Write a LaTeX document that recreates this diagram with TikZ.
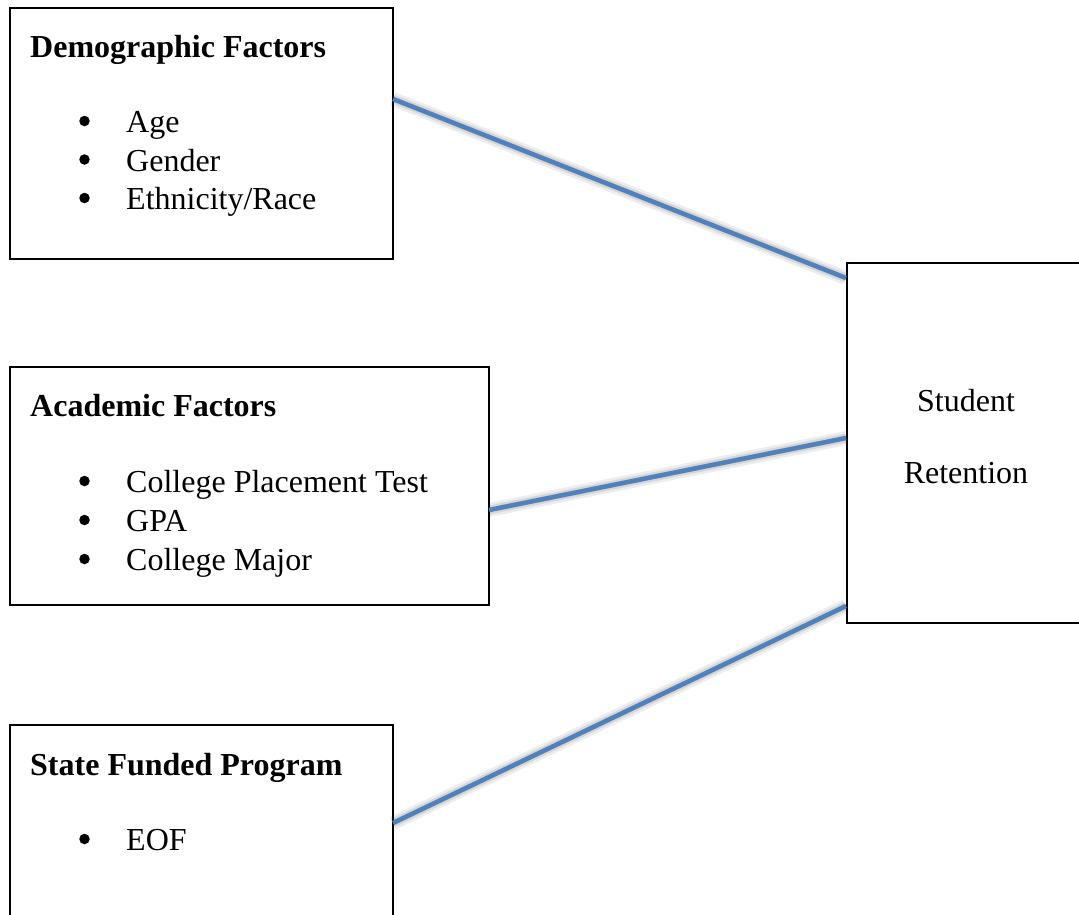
\documentclass[tikz,border=0pt]{standalone}
\usepackage{fontspec}
\setmainfont{Liberation Serif}
\definecolor{linkblue}{RGB}{79,129,189}
\begin{document}
\begin{tikzpicture}[x=1pt,y=-1pt,
  box/.style={draw=black,line width=1.6pt,rectangle,inner sep=0pt,anchor=north west},
  txt/.style={font=\fontsize{32}{38}\selectfont,inner sep=0pt},
  head/.style={txt,font=\fontsize{32}{38}\selectfont\bfseries,anchor=base west},
  item/.style={txt,anchor=base west},
  bul/.style={circle,fill=black,inner sep=0pt,minimum size=10.5pt},
  link/.style={draw=linkblue,line width=4.5pt},
  shadowA/.style={draw=black,opacity=0.07,line width=14pt},
  shadowB/.style={draw=black,opacity=0.09,line width=9pt},
  shadowC/.style={draw=black,opacity=0.10,line width=5pt}]
\clip (0,0) rectangle (1079,914);
\fill[white] (0,0) rectangle (1079,914);

% boxes
\node[box,minimum width=383pt,minimum height=251pt] (demo) at (9,7) {};
\node[box,minimum width=479pt,minimum height=238pt] (acad) at (9,366) {};
\node[box,minimum width=383pt,minimum height=230pt] (state) at (9,724) {};
\node[box,minimum width=250pt,minimum height=360pt] (ret) at (846,262) {};

% demographic
\node[head] (demoT) at (30,57) {Demographic Factors};
\node[bul] (db1) at (84.5,121) {};
\node[item] (di1) at (126,132.5) {Age};
\node[bul] (db2) at (84.5,159.5) {};
\node[item] (di2) at (126,171) {Gender};
\node[bul] (db3) at (84.5,198) {};
\node[item] (di3) at (126,209.5) {Ethnicity/Race};

% academic
\node[head] (acadT) at (30,416) {Academic Factors};
\node[bul] (ab1) at (84.5,481) {};
\node[item] (ai1) at (126,492.5) {College Placement Test};
\node[bul] (ab2) at (84.5,520) {};
\node[item] (ai2) at (126,531.5) {GPA};
\node[bul] (ab3) at (84.5,559) {};
\node[item] (ai3) at (126,570.5) {College Major};

% state
\node[head] (stateT) at (30,775) {State Funded Program};
\node[bul] (sb1) at (84.5,839) {};
\node[item] (si1) at (126,850.5) {EOF};

% retention
\node[txt,anchor=base] (retA) at (966,411) {Student};
\node[txt,anchor=base] (retB) at (966,483) {Retention};

% connector end points on the box borders
\coordinate (d1) at (393,99);
\coordinate (r1) at (846,278);
\coordinate (a1) at (489,510);
\coordinate (r2) at (846,438);
\coordinate (s1) at (393,823);
\coordinate (r3) at (846,606);

% shadows
\begin{scope}[shift={(2,6)}]
  \foreach \s in {shadowA,shadowB,shadowC}{
    \draw[\s] (d1) -- (r1);
    \draw[\s] (a1) -- (r2);
    \draw[\s] (s1) -- (r3);
  }
\end{scope}
% connectors
\draw[link] (d1) -- (r1);
\draw[link] (a1) -- (r2);
\draw[link] (s1) -- (r3);
\end{tikzpicture}
\end{document}
